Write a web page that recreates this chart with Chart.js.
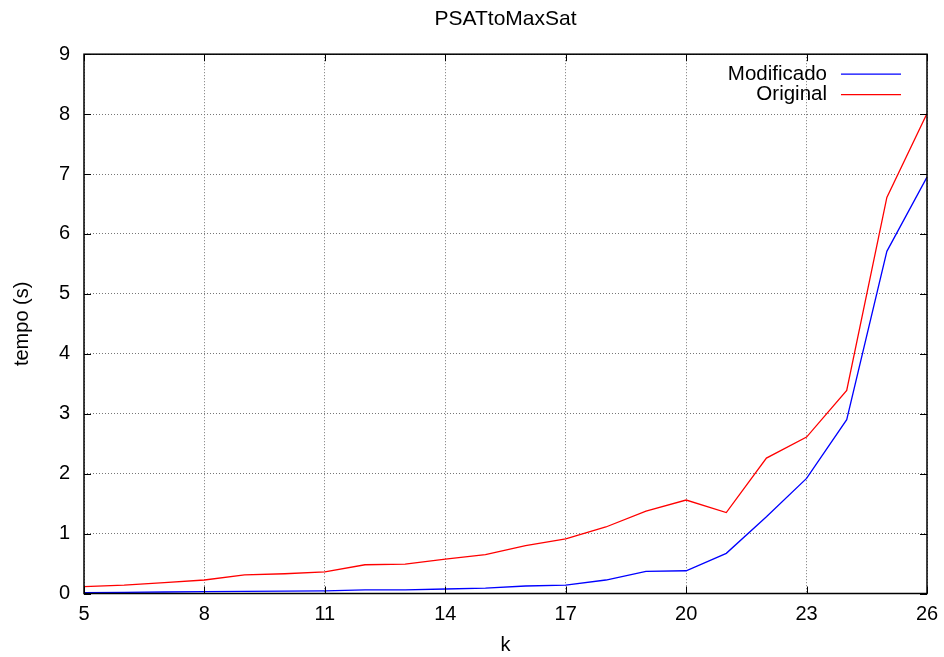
<!DOCTYPE html>
<html><head><meta charset="utf-8">
<script src="https://cdn.jsdelivr.net/npm/chart.js@4/dist/chart.umd.min.js"></script>
<style>html,body{margin:0;padding:0;background:#fff;}</style>
</head><body>
<canvas id="c" width="944" height="657"></canvas>
<script>
const kValues    = [5, 6, 7, 8, 9, 10, 11, 12, 13, 14, 15, 16, 17, 18, 19, 20, 21, 22, 23, 24, 25, 26];
const modificado = [0.015, 0.02, 0.025, 0.03, 0.035, 0.04, 0.045, 0.06, 0.06, 0.075, 0.09, 0.125, 0.14, 0.225, 0.37, 0.38, 0.67, 1.28, 1.92, 2.90, 5.71, 6.95];
const original   = [0.115, 0.14, 0.18, 0.225, 0.31, 0.33, 0.36, 0.48, 0.49, 0.575, 0.65, 0.80, 0.91, 1.11, 1.375, 1.56, 1.35, 2.26, 2.61, 3.39, 6.61, 8.01];
const seriesNames = ['Modificado', 'Original'];
const xTickValues = [5, 8, 11, 14, 17, 20, 23, 26];
const yTickValues = [0, 1, 2, 3, 4, 5, 6, 7, 8, 9];
const chartTitle = 'PSATtoMaxSat';
const xTitle = 'k';
const yTitle = 'tempo (s)';

const FONT = '"Liberation Sans", Arial, Helvetica, sans-serif';
Chart.defaults.font.family = FONT;
Chart.defaults.font.size = 20;
Chart.defaults.color = '#000';

const toPts = arr => kValues.map((k, i) => ({x: k, y: arr[i]}));

const framePlugin = {
  id: 'frame',
  afterDatasetsDraw(chart) {
    const {ctx, chartArea: a, scales: {x, y}} = chart;
    ctx.save();
    ctx.strokeStyle = '#000';
    ctx.lineWidth = 1.5;
    ctx.strokeRect(a.left, a.top, a.right - a.left, a.bottom - a.top);
    ctx.lineWidth = 1;
    const tl = 7;
    ctx.beginPath();
    xTickValues.forEach(v => {
      const px = Math.round(x.getPixelForValue(v)) + 0.5;
      ctx.moveTo(px, a.bottom); ctx.lineTo(px, a.bottom - tl);
      ctx.moveTo(px, a.top); ctx.lineTo(px, a.top + tl);
    });
    yTickValues.forEach(v => {
      const py = Math.round(y.getPixelForValue(v)) + 0.5;
      ctx.moveTo(a.left, py); ctx.lineTo(a.left + tl, py);
      ctx.moveTo(a.right, py); ctx.lineTo(a.right - tl, py);
    });
    ctx.stroke();
    ctx.restore();
  }
};

const keyPlugin = {
  id: 'key',
  afterDraw(chart) {
    const {ctx, chartArea: a} = chart;
    ctx.save();
    ctx.font = '20.5px ' + FONT;
    ctx.textAlign = 'right';
    ctx.textBaseline = 'middle';
    chart.data.datasets.forEach((ds, i) => {
      const yy = a.top + 20 + i * 20.5;
      ctx.fillStyle = '#000';
      ctx.fillText(ds.label, a.right - 100, yy);
      ctx.strokeStyle = ds.borderColor;
      ctx.lineWidth = 1.3;
      ctx.beginPath();
      ctx.moveTo(a.right - 86, yy); ctx.lineTo(a.right - 26, yy);
      ctx.stroke();
    });
    ctx.restore();
  }
};

new Chart(document.getElementById('c'), {
  type: 'line',
  data: {
    datasets: [
      {label: seriesNames[0], data: toPts(modificado), borderColor: '#0000ff', borderWidth: 1.3, pointRadius: 0, tension: 0, fill: false},
      {label: seriesNames[1], data: toPts(original), borderColor: '#ff0000', borderWidth: 1.3, pointRadius: 0, tension: 0, fill: false}
    ]
  },
  options: {
    responsive: false,
    animation: false,
    layout: {padding: {top: 0, right: 17, left: 0, bottom: 0}},
    plugins: {
      legend: {display: false},
      tooltip: {enabled: false},
      title: {display: true, fullSize: false, text: chartTitle, font: {size: 21, weight: 'normal'}, padding: {top: 7, bottom: 22}}
    },
    scales: {
      x: {
        type: 'linear', min: 5, max: 26,
        afterBuildTicks: s => { s.ticks = xTickValues.map(v => ({value: v})); },
        afterFit: s => { s.height = 63.5; s.paddingLeft = 0; s.paddingRight = 0; },
        ticks: {padding: 9, maxRotation: 0, autoSkip: false},
        grid: {color: '#777', lineWidth: 1, drawTicks: false},
        border: {display: false, dash: [1, 2]},
        title: {display: true, text: xTitle, font: {size: 20}, padding: {top: 2, bottom: 0}}
      },
      y: {
        type: 'linear', min: 0, max: 9,
        afterBuildTicks: s => { s.ticks = yTickValues.map(v => ({value: v})); },
        afterFit: s => { s.width = 84; },
        ticks: {padding: 14},
        grid: {color: '#777', lineWidth: 1, drawTicks: false},
        border: {display: false, dash: [1, 2]},
        title: {display: true, text: yTitle, font: {size: 20}, padding: {top: 10, bottom: 0}}
      }
    }
  },
  plugins: [framePlugin, keyPlugin]
});
</script>
</body></html>
